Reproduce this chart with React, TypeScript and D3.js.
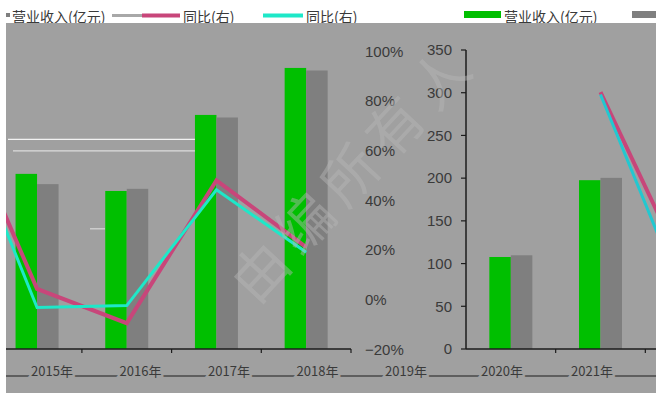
import React from "react";
import * as d3 from "d3";

const W = 656;
const H = 396;

// Left panel: revenue bars (two series) and two year-on-year lines
const leftCats = ["2014年", "2015年", "2016年", "2017年", "2018年"];
const leftRevenueA: (number | null)[] = [null, 205, 185, 274, 329];
const leftRevenueB: (number | null)[] = [null, 193, 187.5, 271, 326];
const leftYoyA = [87.9, 4.4, -9.4, 48.1, 21.2];
const leftYoyB = [86.5, -3.1, -2.3, 44.3, 19.2];

// Right panel
const rightCats = ["2019年", "2020年", "2021年"];
const rightRevenueA: (number | null)[] = [107.7, 197.6, null];
const rightRevenueB: (number | null)[] = [109.7, 200.3, null];
const rightYoyA: (number | null)[] = [null, 83.6, 7.4];
const rightYoyB: (number | null)[] = [null, 82.7, -5.3];

// Axis labels
const valueTicks = [0, 50, 100, 150, 200, 250, 300, 350];
const pctTicks = [-20, 0, 20, 40, 60, 80, 100];
const leftYearLabels = ["2015年", "2016年", "2017年", "2018年", "2019年"];
const rightYearLabels = ["2020年", "2021年"];

// Reference rules in the left plot (percent values)
const refLines = [64.6, 60];

const legendItems = [
  { kind: "rect", color: "#7f7f7f", label: "营业收入(亿元)" },
  { kind: "line", color: "#c8467a", label: "同比(右)" },
  { kind: "line", color: "#1ee8c8", label: "同比(右)" },
  { kind: "rect", color: "#00bf00", label: "营业收入(亿元)" },
  { kind: "rect", color: "#7f7f7f", label: "" },
];

const BG = "#a0a0a0";
const GREEN = "#00bf00";
const GREY_BAR = "#7f7f7f";
const PINK = "#c8467a";
const CYAN = "#1ee8c8";
const AXIS = "#1c1c1c";
const TEXT = "#3a3a3a";
const NUM_FONT = "'Liberation Sans', Arial, sans-serif";
const CJK_FONT = "'Noto Sans CJK SC', 'Noto Sans', sans-serif";

const plotTop = 23;
const plotBottom = 393;
const baseY = 349;

const yVal = d3.scaleLinear().domain([0, 350]).range([baseY, 50]);
const yPct = d3.scaleLinear().domain([-20, 100]).range([349.5, 51.5]);

const xLeft = d3.scaleBand<string>().domain(leftCats).range([-97.5, 351]);
const xRight = d3.scaleBand<string>().domain(rightCats).range([466, 735]);

const leftLabelX = d3.scalePoint<string>().domain(leftYearLabels).range([52, 406]);
const rightLabelX = d3.scalePoint<string>().domain(rightYearLabels).range([502, 592]);

const BAR_W = 21.5;

function center(scale: d3.ScaleBand<string>, c: string) {
  return (scale(c) ?? 0) + scale.bandwidth() / 2;
}

function Bars({ scale, cats, a, b }: { scale: d3.ScaleBand<string>; cats: string[]; a: (number | null)[]; b: (number | null)[] }) {
  return (
    <g>
      {cats.map((c, i) => {
        const cx = center(scale, c);
        const sub = d3.scaleBand<string>().domain(["a", "b"]).range([cx - BAR_W, cx + BAR_W]);
        return (
          <g key={c}>
            {a[i] != null && (
              <rect x={sub("a")} y={yVal(a[i] as number)} width={sub.bandwidth()} height={baseY - yVal(a[i] as number)} fill={GREEN} />
            )}
            {b[i] != null && (
              <rect x={sub("b")} y={yVal(b[i] as number)} width={sub.bandwidth()} height={baseY - yVal(b[i] as number)} fill={GREY_BAR} />
            )}
          </g>
        );
      })}
    </g>
  );
}

function YoyLine({ scale, cats, vals, color, width }: { scale: d3.ScaleBand<string>; cats: string[]; vals: (number | null)[]; color: string; width: number }) {
  const pts = cats.map((c, i) => [center(scale, c), vals[i]] as [number, number | null]);
  const gen = d3
    .line<[number, number | null]>()
    .defined((d) => d[1] != null)
    .x((d) => d[0])
    .y((d) => yPct(d[1] as number));
  return <path d={gen(pts) ?? ""} fill="none" stroke={color} strokeWidth={width} strokeLinejoin="miter" />;
}

export default function App() {
  const leftTicks = xLeft.domain().slice(1).map((c) => (xLeft(c) ?? 0) + xLeft.bandwidth());
  const rightTicks = xRight.domain().slice(0, 2).map((c) => (xRight(c) ?? 0) + xRight.bandwidth());

  // legend layout (x start of each marker)
  const legendX = [6, 142, 263, 464, 632];
  const legendMarkW = [4, 38, 40, 37, 30];

  return (
    <svg
      width={W}
      height={H}
      viewBox={`0 0 ${W} ${H}`}
      style={{ position: "fixed", left: 0, top: 0, background: "#ffffff" }}
    >
      <defs>
        <clipPath id="plot-clip">
          <rect x={6} y={plotTop} width={W - 6} height={plotBottom - plotTop} />
        </clipPath>
      </defs>

      {/* legend strip */}
      <g>
        <line x1={112} x2={142} y1={15.5} y2={15.5} stroke="#a8a8a8" strokeWidth={3} />
        {legendItems.map((it, i) => {
          const x = legendX[i];
          return (
            <g key={i}>
              {it.kind === "rect" ? (
                <rect x={x} y={i === 0 ? 13 : 11} width={legendMarkW[i]} height={i === 0 ? 4 : 7} fill={it.color} />
              ) : (
                <line x1={x} x2={x + legendMarkW[i]} y1={15.5} y2={15.5} stroke={it.color} strokeWidth={4} />
              )}
              {it.label && (
                <text
                  x={i === 0 ? 12 : x + legendMarkW[i] + 3}
                  y={22}
                  fontSize={14}
                  fontFamily={CJK_FONT}
                  fill={TEXT}
                >
                  {it.label}
                </text>
              )}
            </g>
          );
        })}
      </g>

      {/* chart background */}
      <rect x={6} y={plotTop} width={W - 6} height={plotBottom - plotTop} fill={BG} />

      <g clipPath="url(#plot-clip)">
        {/* reference rules */}
        {refLines.map((v, i) => (
          <line key={v} x1={i === 0 ? 8 : 13} x2={195} y1={yPct(v)} y2={yPct(v)} stroke={i === 0 ? "#f2f2f2" : "#dcdcdc"} strokeWidth={1.2} />
        ))}
        <line x1={90} x2={105} y1={yPct(28.6)} y2={yPct(28.6)} stroke="#d8d8d8" strokeWidth={1.2} />

        {/* left panel */}
        <Bars scale={xLeft} cats={leftCats} a={leftRevenueA} b={leftRevenueB} />
        <YoyLine scale={xLeft} cats={leftCats} vals={leftYoyA} color={PINK} width={4} />
        <YoyLine scale={xLeft} cats={leftCats} vals={leftYoyB} color={CYAN} width={3} />

        <line x1={6} x2={351} y1={baseY} y2={baseY} stroke={AXIS} strokeWidth={1.5} />
        {leftTicks.map((t) => (
          <line key={t} x1={t} x2={t} y1={baseY} y2={baseY + 4} stroke={AXIS} strokeWidth={1.2} />
        ))}

        {/* percent axis labels */}
        {pctTicks.map((v) => (
          <text key={v} x={365} y={yPct(v)} dy="0.35em" fontSize={15} fontFamily={NUM_FONT} fill={TEXT}>
            {v < 0 ? `−${Math.abs(v)}%` : `${v}%`}
          </text>
        ))}

        {/* right panel value axis */}
        <line x1={466} x2={466} y1={yVal(350)} y2={baseY} stroke={AXIS} strokeWidth={1.5} />
        {valueTicks.map((v) => (
          <g key={v}>
            <line x1={461} x2={466} y1={yVal(v)} y2={yVal(v)} stroke={AXIS} strokeWidth={1.2} />
            <text x={452} y={yVal(v)} dy="0.35em" textAnchor="end" fontSize={15} fontFamily={NUM_FONT} fill={TEXT}>
              {v}
            </text>
          </g>
        ))}

        <Bars scale={xRight} cats={rightCats} a={rightRevenueA} b={rightRevenueB} />
        <YoyLine scale={xRight} cats={rightCats} vals={rightYoyA} color={PINK} width={4} />
        <YoyLine scale={xRight} cats={rightCats} vals={rightYoyB} color="#22c8d0" width={3} />

        <line x1={466} x2={W} y1={baseY} y2={baseY} stroke={AXIS} strokeWidth={1.5} />
        {rightTicks.map((t) => (
          <line key={t} x1={t} x2={t} y1={baseY} y2={baseY + 4} stroke={AXIS} strokeWidth={1.2} />
        ))}

        {/* category labels over a rule */}
        <line x1={6} x2={W} y1={376} y2={376} stroke={AXIS} strokeWidth={1} />
        {leftYearLabels.map((l) => (
          <text
            key={l}
            x={leftLabelX(l)}
            y={376}
            textAnchor="middle"
            fontSize={13}
            fontFamily={CJK_FONT}
            fill={TEXT}
            stroke={BG}
            strokeWidth={5}
            paintOrder="stroke"
          >
            {l}
          </text>
        ))}
        {rightYearLabels.map((l) => (
          <text
            key={l}
            x={rightLabelX(l)}
            y={376}
            textAnchor="middle"
            fontSize={13}
            fontFamily={CJK_FONT}
            fill={TEXT}
            stroke={BG}
            strokeWidth={5}
            paintOrder="stroke"
          >
            {l}
          </text>
        ))}
      </g>

      {/* diagonal watermark */}
      <text
        transform="translate(256,306) rotate(-47)"
        fontSize={56}
        fontFamily={CJK_FONT}
        fill="#b8b8b8"
        opacity={0.45}
        letterSpacing={10}
      >
        由编所有人
      </text>
    </svg>
  );
}
